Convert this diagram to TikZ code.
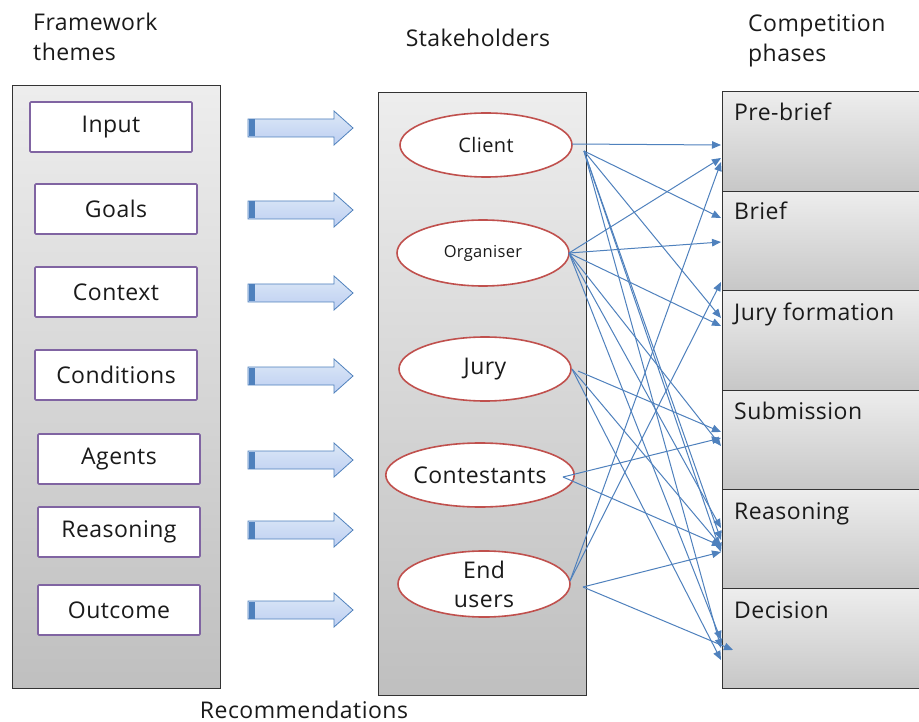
\documentclass[tikz,border=0pt]{standalone}
\usepackage{fontspec}
\setmainfont[LetterSpace=2]{Open Sans}
\usetikzlibrary{arrows.meta,shapes.geometric}
\definecolor{purp}{HTML}{8064A2}
\definecolor{redb}{HTML}{C0504D}
\definecolor{blueb}{HTML}{4F81BD}
\definecolor{bluef}{HTML}{C6D9F1}
\definecolor{txt}{HTML}{1A1A1A}
\tikzset{
  panel/.style={draw=black!80, line width=1pt, top color=black!7, bottom color=black!25, minimum width=208, minimum height=602, anchor=north west, inner sep=0, outer sep=0},
  cell/.style={draw=black!80, line width=1pt, top color=black!7, bottom color=black!22, minimum width=197, minimum height=99.33, anchor=north west, inner sep=0, outer sep=0},
  theme/.style={draw=purp, line width=1.6pt, fill=white, rounded corners=1pt, minimum width=162, minimum height=50, inner sep=0, font=\fontsize{23}{26}\selectfont, text=txt},
  stake/.style={ellipse, draw=redb, line width=1.6pt, fill=white, minimum width=172, minimum height=64, inner sep=0, text=txt, font=\fontsize{23}{26}\selectfont},
  title/.style={font=\fontsize{23}{30}\selectfont, text=txt, align=left, inner sep=0},
  phase/.style={font=\fontsize{23}{26}\selectfont, text=txt, anchor=base west, inner sep=0},
  conn/.style={draw=blueb, line width=1pt, -{Triangle[length=9pt,width=7.5pt]}},
  barrow/.style={draw=blueb, line width=0.8pt, top color=bluef!60, bottom color=bluef!95!blue},
}
\begin{document}
\begin{tikzpicture}[x=1pt,y=-1pt]
\useasboundingbox[fill=white] (0,0) rectangle (919,722);

% titles
\node[title, anchor=north west] (t1) at (33,13) {Framework\\themes};
\node[title, anchor=base] (t2) at (478,47) {Stakeholders};
\node[title, anchor=north west] (t3) at (748,14) {Competition\\phases};
\node[title, anchor=base] (t4) at (304,718) {Recommendations};

% panels
\node[panel] (left) at (12,86) {};
\node[panel] (mid) at (378,93) {};

% theme boxes
\node[theme] (input) at (111,127) {Input};
\node[theme] (goals) at (116,209) {Goals};
\node[theme] (context) at (116,292) {Context};
\node[theme] (cond) at (116,375) {Conditions};
\node[theme] (agents) at (119,459) {Agents};
\node[theme] (reas) at (119,532) {Reasoning};
\node[theme] (outc) at (119,610) {Outcome};

% block arrows
\foreach \y in {128,210,293,376,460,530,610}{
  \path[barrow] (248,\y-9) -- (334,\y-9) -- (334,\y-17) -- (353,\y) -- (334,\y+17) -- (334,\y+9) -- (248,\y+9) -- cycle;
  \fill[blueb] (248.5,\y-8.5) rectangle (255,\y+8.5);
}

% stakeholders
\node[stake, minimum width=172, minimum height=64, font=\fontsize{20}{22}\selectfont] (client) at (486,145) {Client};
\node[stake, minimum height=66, font=\fontsize{16.5}{18}\selectfont] (org) at (483,253) {Organiser};
\node[stake] (jury) at (485,369) {Jury};
\node[stake, minimum width=176] (cont) at (480,475) {Contestants};
\node[stake, minimum height=66, align=center, font=\fontsize{23}{29}\selectfont] (end) at (484,584) {End\\users};

% phases
\node[cell] (p1) at (722,92) {};
\node[cell] (p2) at (722,191.33) {};
\node[cell] (p3) at (722,290.67) {};
\node[cell] (p4) at (722,390) {};
\node[cell] (p5) at (722,489.33) {};
\node[cell] (p6) at (722,588.67) {};
\node[phase] (l1) at (734,121) {Pre-brief};
\node[phase] (l2) at (734,220) {Brief};
\node[phase] (l3) at (734,320) {Jury formation};
\node[phase] (l4) at (734,419) {Submission};
\node[phase] (l5) at (734,519) {Reasoning};
\node[phase] (l6) at (734,618) {Decision};

% targets
\coordinate (a1) at (721,145);
\coordinate (a2) at (721,158);
\coordinate (a3) at (721,162);
\coordinate (b1) at (721,218);
\coordinate (b2) at (721,242);
\coordinate (b3) at (721,282);
\coordinate (c1) at (721,318);
\coordinate (c2) at (721,326);
\coordinate (d1) at (721,432);
\coordinate (d2) at (721,438);
\coordinate (d3) at (721,446);
\coordinate (e1) at (721,528);
\coordinate (e2) at (721,540);
\coordinate (e3) at (721,546);
\coordinate (e4) at (721,552);
\coordinate (f1) at (721,640);
\coordinate (f2) at (721,648);
\coordinate (f3) at (733,650);
\coordinate (f4) at (721,660);

% sources
\coordinate (cs) at (572,144);
\coordinate (cs2) at (584,151);
\coordinate (os) at (569,253);
\coordinate (js) at (572,369);
\coordinate (js2) at (578,371);
\coordinate (ks) at (563,477);
\coordinate (es) at (570,581);
\coordinate (es2) at (583,587);

% connectors
\draw[conn] (cs) -- (a1);
\draw[conn] (cs2) -- (b1);
\draw[conn] (cs2) -- (c1);
\draw[conn] (cs2) -- (e2);
\draw[conn] (cs2) -- (f2);
\draw[conn] (cs2) -- (e4);
\draw[conn] (os) -- (a2);
\draw[conn] (os) -- (b2);
\draw[conn] (os) -- (c2);
\draw[conn] (os) -- (d3);
\draw[conn] (os) -- (e1);
\draw[conn] (os) -- (f1);
\draw[conn] (js2) -- (d1);
\draw[conn] (js) -- (e3);
\draw[conn] (js) -- (f4);
\draw[conn] (ks) -- (d2);
\draw[conn] (ks) -- (e3);
\draw[conn] (es) -- (a3);
\draw[conn] (es) -- (b3);
\draw[conn] (es2) -- (e4);
\draw[conn] (es2) -- (f3);
\end{tikzpicture}
\end{document}
